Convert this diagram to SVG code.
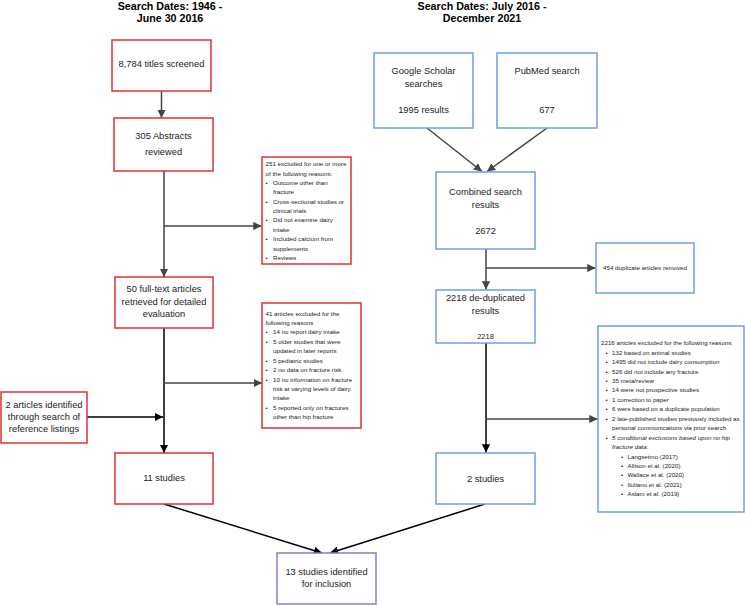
<svg xmlns="http://www.w3.org/2000/svg" width="745" height="605" viewBox="0 0 745 605">
<style>
.bg{fill:#ffffff}
.red{fill:#ffffff;stroke:#dd3333;stroke-width:1.5}
.blue{fill:#ffffff;stroke:#6d9eeb;stroke-width:1.5}
.purple{fill:#ffffff;stroke:#8e7cc3;stroke-width:1.5}
.t{font-family:"Liberation Sans",Arial,sans-serif;font-size:9.3px;fill:#222;text-anchor:middle}
.s{font-family:"Liberation Sans",Arial,sans-serif;font-size:6.2px;fill:#222}
.title{font-family:"Liberation Sans",Arial,sans-serif;font-size:10.7px;font-weight:bold;fill:#000;text-anchor:middle}
.g{stroke:#444;stroke-width:1.5;fill:none}
.k{stroke:#000;stroke-width:1.5;fill:none}
</style>
<defs>
<marker id="ag" viewBox="0 0 10 10" refX="10" refY="5" markerWidth="5.5" markerHeight="5.5" orient="auto" markerUnits="strokeWidth"><path d="M0,0 L10,5 L0,10 z" fill="#444"/></marker>
<marker id="ak" viewBox="0 0 10 10" refX="10" refY="5" markerWidth="5.5" markerHeight="5.5" orient="auto" markerUnits="strokeWidth"><path d="M0,0 L10,5 L0,10 z" fill="#000"/></marker>
</defs>
<rect class="bg" x="0" y="0" width="745" height="605"/>
<g id="titles">
<text class="title" x="170" y="10">Search Dates: 1946 -</text>
<text class="title" x="170" y="22">June 30 2016</text>
<text class="title" x="482" y="10">Search Dates: July 2016 -</text>
<text class="title" x="482" y="22">December 2021</text>
</g>
<g id="connectors">
<line class="g" x1="161.5" y1="91" x2="161.5" y2="118" marker-end="url(#ag)"/>
<line class="g" x1="164" y1="171" x2="164" y2="277" marker-end="url(#ag)"/>
<line class="g" x1="164" y1="226" x2="261.5" y2="226" marker-end="url(#ag)"/>
<line class="k" x1="164" y1="328" x2="164" y2="453" marker-end="url(#ak)"/>
<line class="g" x1="164" y1="383" x2="262" y2="383" marker-end="url(#ag)"/>
<line class="k" x1="87" y1="417" x2="163" y2="417" marker-end="url(#ak)"/>
<line class="k" x1="164" y1="504" x2="322" y2="553" marker-end="url(#ak)"/>
<line class="g" x1="427" y1="128" x2="482" y2="171.5" marker-end="url(#ag)"/>
<line class="g" x1="547" y1="128" x2="487" y2="171.5" marker-end="url(#ag)"/>
<line class="g" x1="486" y1="249" x2="486" y2="289.5" marker-end="url(#ag)"/>
<line class="g" x1="486" y1="268" x2="595.5" y2="268" marker-end="url(#ag)"/>
<line class="k" x1="486" y1="343" x2="486" y2="452.5" marker-end="url(#ak)"/>
<line class="g" x1="486" y1="419" x2="597.5" y2="419" marker-end="url(#ag)"/>
<line class="k" x1="485" y1="504" x2="330" y2="553" marker-end="url(#ak)"/>
</g>
<g id="n1">
<rect class="red" x="112" y="40" width="99" height="51"/>
<text class="t" x="161.5" y="66.5">8,784 titles screened</text>
</g>
<g id="n2">
<rect class="red" x="114" y="118" width="99" height="53"/>
<text class="t" x="163.5" y="138.5">305 Abstracts</text>
<text class="t" x="163.5" y="154.5">reviewed</text>
</g>
<g id="n3">
<rect class="red" x="262" y="157" width="89" height="107"/>
<text class="s" x="265.5" y="166.2">251 excluded for one or more</text>
<text class="s" x="265.5" y="175.6">of the following reasons:</text>
<text class="s" x="265.5" y="184.9">•</text><text class="s" x="273" y="184.9">Outcome other than</text>
<text class="s" x="273" y="194.3">fracture</text>
<text class="s" x="265.5" y="203.7">•</text><text class="s" x="273" y="203.7">Cross-sectional studies or</text>
<text class="s" x="273" y="213.1">clinical trials</text>
<text class="s" x="265.5" y="222.4">•</text><text class="s" x="273" y="222.4">Did not examine dairy</text>
<text class="s" x="273" y="231.8">intake</text>
<text class="s" x="265.5" y="241.2">•</text><text class="s" x="273" y="241.2">Included calcium from</text>
<text class="s" x="273" y="250.5">supplements</text>
<text class="s" x="265.5" y="259.9">•</text><text class="s" x="273" y="259.9">Reviews</text>
</g>
<g id="n4">
<rect class="red" x="115" y="277" width="98" height="51"/>
<text class="t" x="164" y="292">50 full-text articles</text>
<text class="t" x="164" y="304.5">retrieved for detailed</text>
<text class="t" x="164" y="317">evaluation</text>
</g>
<g id="n5">
<rect class="red" x="262" y="303" width="99" height="125"/>
<text class="s" x="265.5" y="315.5">41 articles excluded for the</text>
<text class="s" x="265.5" y="324.9">following reasons</text>
<text class="s" x="265.5" y="334.4">•</text><text class="s" x="273" y="334.4">14 no report dairy intake</text>
<text class="s" x="265.5" y="343.8">•</text><text class="s" x="273" y="343.8">5 older studies that were</text>
<text class="s" x="273" y="353.2">updated in later reports</text>
<text class="s" x="265.5" y="362.7">•</text><text class="s" x="273" y="362.7">5 pediatric studies</text>
<text class="s" x="265.5" y="372.1">•</text><text class="s" x="273" y="372.1">2 no data on fracture risk</text>
<text class="s" x="265.5" y="381.5">•</text><text class="s" x="273" y="381.5">10 no information on fracture</text>
<text class="s" x="273" y="391">risk at varying levels of dairy</text>
<text class="s" x="273" y="400.4">intake</text>
<text class="s" x="265.5" y="409.8">•</text><text class="s" x="273" y="409.8">5 reported only on fractures</text>
<text class="s" x="273" y="419.2">other than hip fracture</text>
</g>
<g id="n6">
<rect class="red" x="1" y="392" width="86" height="51"/>
<text class="t" x="44" y="407.5">2 articles identified</text>
<text class="t" x="44" y="419.5">through search of</text>
<text class="t" x="44" y="431.5">reference listings</text>
</g>
<g id="n7">
<rect class="red" x="115" y="453" width="98" height="51"/>
<text class="t" x="164" y="480.5">11 studies</text>
</g>
<g id="n8">
<rect class="purple" x="277" y="553" width="99" height="51"/>
<text class="t" x="326.5" y="574.5">13 studies identified</text>
<text class="t" x="326.5" y="586.5">for inclusion</text>
</g>
<g id="n9">
<rect class="blue" x="374" y="53" width="99" height="75"/>
<text class="t" x="423.5" y="73.5">Google Scholar</text>
<text class="t" x="423.5" y="86.5">searches</text>
<text class="t" x="423.5" y="113">1995 results</text>
</g>
<g id="n10">
<rect class="blue" x="497" y="53" width="100" height="75"/>
<text class="t" x="547" y="73.5">PubMed search</text>
<text class="t" x="547" y="113">677</text>
</g>
<g id="n11">
<rect class="blue" x="436" y="172" width="99" height="77"/>
<text class="t" x="485.5" y="194.5">Combined search</text>
<text class="t" x="485.5" y="207.5">results</text>
<text class="t" x="485.5" y="233.5">2672</text>
</g>
<g id="n12">
<rect class="blue" x="596" y="243" width="98" height="50"/>
<text class="s" x="645" y="270" text-anchor="middle">454 duplicate articles removed</text>
</g>
<g id="n13">
<rect class="blue" x="436" y="290" width="99" height="53"/>
<text class="t" x="485.5" y="300.5">2218 de-duplicated</text>
<text class="t" x="485.5" y="313.5">results</text>
<text class="t" x="485.5" y="338.5" style="font-size:7.5px">2218</text>
</g>
<g id="n14">
<rect class="blue" x="598" y="326" width="146" height="186"/>
<text class="s" x="601" y="345.2">2216 articles excluded for the following reasons:</text>
<text class="s" x="605.5" y="354.6">•</text><text class="s" x="612" y="354.6">132 based on animal studies</text>
<text class="s" x="605.5" y="364.1">•</text><text class="s" x="612" y="364.1">1495 did not include dairy consumption</text>
<text class="s" x="605.5" y="373.5">•</text><text class="s" x="612" y="373.5">526 did not include any fracture</text>
<text class="s" x="605.5" y="383">•</text><text class="s" x="612" y="383">35 meta/review</text>
<text class="s" x="605.5" y="392.4">•</text><text class="s" x="612" y="392.4">14 were not prospective studies</text>
<text class="s" x="605.5" y="401.8">•</text><text class="s" x="612" y="401.8">1 correction to paper</text>
<text class="s" x="605.5" y="411.3">•</text><text class="s" x="612" y="411.3">6 were based on a duplicate population</text>
<text class="s" x="605.5" y="420.7">•</text><text class="s" x="612" y="420.7">2 late-published studies previously included as</text>
<text class="s" x="612" y="430.2">personal communications via prior search</text>
<text class="s" x="605.5" y="439.6">•</text><text class="s" x="612" y="439.6" font-style="italic">5 conditional exclusions based upon no hip</text>
<text class="s" x="612" y="449" font-style="italic">fracture data:</text>
<text class="s" x="621" y="458.5">•</text><text class="s" x="627.5" y="458.5">Langsetmo (2017)</text>
<text class="s" x="621" y="467.9">•</text><text class="s" x="627.5" y="467.9">Allison et al. (2020)</text>
<text class="s" x="621" y="477.4">•</text><text class="s" x="627.5" y="477.4">Wallace et al. (2020)</text>
<text class="s" x="621" y="486.8">•</text><text class="s" x="627.5" y="486.8">Iluliano et al. (2021)</text>
<text class="s" x="621" y="496.2">•</text><text class="s" x="627.5" y="496.2">Aslam et al. (2019)</text>
</g>
<g id="n15">
<rect class="blue" x="436" y="453" width="99" height="51"/>
<text class="t" x="485.5" y="481.5">2 studies</text>
</g>
</svg>
